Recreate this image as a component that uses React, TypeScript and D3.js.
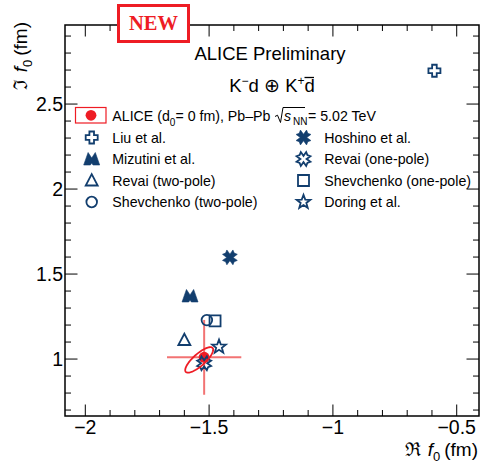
import * as d3 from 'd3';

const W = 481;
const H = 466;
const FRAME = { left: 65, right: 479, top: 25, bottom: 416 };

// theory predictions for the K-d scattering length
const models = [
  'Liu et al.',
  'Hoshino et al.',
  'Mizutini et al.',
  'Revai (one-pole)',
  'Revai (two-pole)',
  'Shevchenko (one-pole)',
  'Shevchenko (two-pole)',
  'Doring et al.',
];
const reF0 = [-0.59, -1.416, -1.577, -1.52, -1.6, -1.476, -1.509, -1.46];
const imF0 = [2.696, 1.598, 1.371, 0.975, 1.112, 1.224, 1.229, 1.072];

// ALICE measurement
const aliceRe = -1.52;
const aliceIm = 1.01;
const aliceErrRe = 0.15;
const aliceErrIm = 0.22;
// correlated contour
const ellipseCenter = [-1.54, 0.995];
const ellipseSigma = [0.0565, 0.075];
const ellipseRho = 0.8;

const legendLeft = ['Liu et al.', 'Mizutini et al.', 'Revai (two-pole)', 'Shevchenko (two-pole)'];
const legendRight = ['Hoshino et al.', 'Revai (one-pole)', 'Shevchenko (one-pole)', 'Doring et al.'];

const BLUE = '#123e6e';
const RED = '#ee1c24';
const SANS = '"Liberation Sans", Arial, Helvetica, sans-serif';

// X made of four chunky arms with a shallow notch at each end
const fourTriX = (L: number, a: number, w: number, d: number) => {
  const pts: [number, number][] = [];
  for (let k = 0; k < 4; k++) {
    const th = (Math.PI / 2) * k + Math.PI / 4;
    const c = Math.cos(th);
    const s = Math.sin(th);
    const rot = (x: number, y: number): [number, number] => [x * c - y * s, x * s + y * c];
    pts.push(rot(w, -w), rot(L, -a), rot(L - d, 0), rot(L, a));
  }
  return 'M' + pts.map((p) => p.map((v) => v.toFixed(2)).join(',')).join('L') + 'Z';
};

const starPath = (R: number, r: number) => {
  const pts: string[] = [];
  for (let i = 0; i < 10; i++) {
    const rad = i % 2 === 0 ? R : r;
    const a = -Math.PI / 2 + (i * Math.PI) / 5;
    pts.push(`${(rad * Math.cos(a)).toFixed(2)},${(rad * Math.sin(a)).toFixed(2)}`);
  }
  return 'M' + pts.join('L') + 'Z';
};

const MARKERS: Record<string, { d: string; filled: boolean }> = {
  'Liu et al.': {
    d: 'M-2.3,-6H2.3V-2.3H6V2.3H2.3V6H-2.3V2.3H-6V-2.3H-2.3Z',
    filled: false,
  },
  'Hoshino et al.': { d: fourTriX(7.4, 3.1, 2.3, 1.3), filled: true },
  'Mizutini et al.': {
    d: 'M-8,6L-3.6,-6.5L0,-1L3.6,-6.5L8,6L1.3,6L0,4L-1.3,6Z',
    filled: true,
  },
  'Revai (one-pole)': { d: fourTriX(6.8, 3, 2.2, 1.3), filled: false },
  'Revai (two-pole)': { d: 'M0,-6.3L6,5L-6,5Z', filled: false },
  'Shevchenko (one-pole)': { d: 'M-5.5,-5.5H5.5V5.5H-5.5Z', filled: false },
  'Shevchenko (two-pole)': {
    d: d3.arc()({ innerRadius: 0, outerRadius: 5.3, startAngle: 0, endAngle: 2 * Math.PI }) as string,
    filled: false,
  },
  'Doring et al.': { d: starPath(7.2, 3), filled: false },
};

const Marker = ({ name, x, y }: { name: string; x: number; y: number }) => {
  const m = MARKERS[name];
  return (
    <path
      d={m.d}
      transform={`translate(${x},${y})`}
      fill={m.filled ? BLUE : 'none'}
      stroke={BLUE}
      strokeWidth={m.filled ? 0.6 : 1.8}
      strokeLinejoin="miter"
    />
  );
};

const App = () => {
  const x = d3.scaleLinear().domain([-2.082, -0.41]).range([FRAME.left, FRAME.right]);
  const y = d3.scaleLinear().domain([0.665, 2.965]).range([FRAME.bottom, FRAME.top]);

  const xMajor = x.ticks(4);
  const xMinor = x.ticks(20);
  const yMajor = y.ticks(5);
  const yMinor = y.ticks(20);
  const fmt = d3.format('');

  const isMajor = (v: number, majors: number[]) => majors.some((m) => Math.abs(m - v) < 1e-9);

  const ellipse = d3.range(0, 361, 4).map((deg) => {
    const t = (deg * Math.PI) / 180;
    const ex = ellipseCenter[0] + ellipseSigma[0] * Math.cos(t);
    const ey =
      ellipseCenter[1] +
      ellipseSigma[1] * (ellipseRho * Math.cos(t) + Math.sqrt(1 - ellipseRho * ellipseRho) * Math.sin(t));
    return [x(ex), y(ey)] as [number, number];
  });

  const rowY = [137.5, 159, 180.5, 202];

  return (
    <svg
      width={W}
      height={H}
      style={{ position: 'absolute', left: 0, top: 0, background: 'white' }}
      fontFamily={SANS}
    >
      {/* ticks */}
      <g stroke="black" strokeWidth={1}>
        {xMinor.map((v) => {
          const len = isMajor(v, xMajor) ? 11.5 : 6;
          return (
            <g key={`xt${v}`}>
              <line x1={x(v)} x2={x(v)} y1={FRAME.bottom} y2={FRAME.bottom - len} />
              <line x1={x(v)} x2={x(v)} y1={FRAME.top} y2={FRAME.top + len} />
            </g>
          );
        })}
        {yMinor.map((v) => {
          const len = isMajor(v, yMajor) ? 12.5 : 6;
          return (
            <g key={`yt${v}`}>
              <line x1={FRAME.left} x2={FRAME.left + len} y1={y(v)} y2={y(v)} />
              <line x1={FRAME.right} x2={FRAME.right - len} y1={y(v)} y2={y(v)} />
            </g>
          );
        })}
      </g>
      <rect
        x={FRAME.left}
        y={FRAME.top}
        width={FRAME.right - FRAME.left}
        height={FRAME.bottom - FRAME.top}
        fill="none"
        stroke="black"
        strokeWidth={1.5}
      />

      {/* tick labels */}
      <g fontSize={19.5} fill="black">
        {xMajor.map((v) => (
          <text key={`xl${v}`} x={x(v)} y={434} textAnchor="middle">
            {fmt(v)}
          </text>
        ))}
        {yMajor.map((v) => (
          <text key={`yl${v}`} x={63} y={y(v) + 7} textAnchor="end">
            {fmt(v)}
          </text>
        ))}
      </g>

      {/* axis titles */}
      <text x={478} y={456} textAnchor="end" fontSize={19}>
        <tspan fontFamily="DejaVu Serif">ℜ</tspan>
        <tspan dx={7} fontStyle="italic">f</tspan>
        <tspan dy={5} fontSize={13}>0</tspan>
        <tspan dy={-5} dx={4}>(fm)</tspan>
      </text>
      <text transform="translate(27,22) rotate(-90)" textAnchor="end" fontSize={19}>
        <tspan fontFamily="DejaVu Serif">ℑ</tspan>
        <tspan dx={7} fontStyle="italic">f</tspan>
        <tspan dy={5} fontSize={13}>0</tspan>
        <tspan dy={-5} dx={4}>(fm)</tspan>
      </text>

      {/* NEW badge */}
      <rect x={118.5} y={5.5} width={70} height={36} fill="white" stroke={RED} strokeWidth={3} />
      <text
        x={153.5}
        y={29.5}
        textAnchor="middle"
        fontFamily='"Liberation Serif", "Times New Roman", serif'
        fontWeight="bold"
        fontSize={20.5}
        fill={RED}
      >
        NEW
      </text>

      {/* headers */}
      <text x={270} y={60} textAnchor="middle" fontSize={18.5}>
        ALICE Preliminary
      </text>
      <text x={272} y={92} textAnchor="middle" fontSize={18.5}>
        K<tspan dy={-7} fontSize={12}>−</tspan>
        <tspan dy={7}>d ⊕ K</tspan>
        <tspan dy={-7} fontSize={12}>+</tspan>
        <tspan dy={7}>d</tspan>
      </text>
      <line x1={304.5} x2={314} y1={77.5} y2={77.5} stroke="black" strokeWidth={1.3} />

      {/* legend */}
      <g fontSize={14.2}>
        <rect x={75.5} y={107.5} width={30.5} height={15.5} fill="white" stroke={RED} strokeWidth={1.2} />
        <circle cx={91} cy={115.3} r={5.4} fill={RED} />
        <text x={112.3} y={120.8}>
          ALICE (d<tspan dy={5} fontSize={10}>0</tspan>
          <tspan dy={-5}>= 0 fm), Pb–Pb</tspan>
        </text>
        <path
          d="M275,116.5L277.5,115.2L280.5,122.5L283,107.5L305,107.5"
          fill="none"
          stroke="black"
          strokeWidth={1}
        />
        <text x={284} y={120.8} fontStyle="italic">
          s
        </text>
        <text x={293} y={124.5} fontSize={10}>
          NN
        </text>
        <text x={308} y={120.8}>
          = 5.02 TeV
        </text>
        {legendLeft.map((name, i) => (
          <g key={name}>
            <Marker name={name} x={91.7} y={rowY[i]} />
            <text x={112.3} y={rowY[i] + 5.3}>
              {name}
            </text>
          </g>
        ))}
        {legendRight.map((name, i) => (
          <g key={name}>
            <Marker name={name} x={303.5} y={rowY[i]} />
            <text x={324.3} y={rowY[i] + 5.3}>
              {name}
            </text>
          </g>
        ))}
      </g>

      {/* ALICE point with errors */}
      <g stroke="#f05a5a" strokeOpacity={0.85} strokeWidth={2}>
        <line x1={x(aliceRe - aliceErrRe)} x2={x(aliceRe + aliceErrRe)} y1={y(aliceIm)} y2={y(aliceIm)} />
        <line x1={x(aliceRe)} x2={x(aliceRe)} y1={y(aliceIm - aliceErrIm)} y2={y(aliceIm + aliceErrIm)} />
      </g>
      <circle cx={x(aliceRe)} cy={y(aliceIm)} r={5.5} fill={RED} />

      {/* model markers */}
      {models.map((name, i) => (
        <Marker key={name} name={name} x={x(reF0[i])} y={y(imF0[i])} />
      ))}

      <path d={d3.line()(ellipse) as string} fill="none" stroke={RED} strokeWidth={1.8} />
    </svg>
  );
};

export default App;
